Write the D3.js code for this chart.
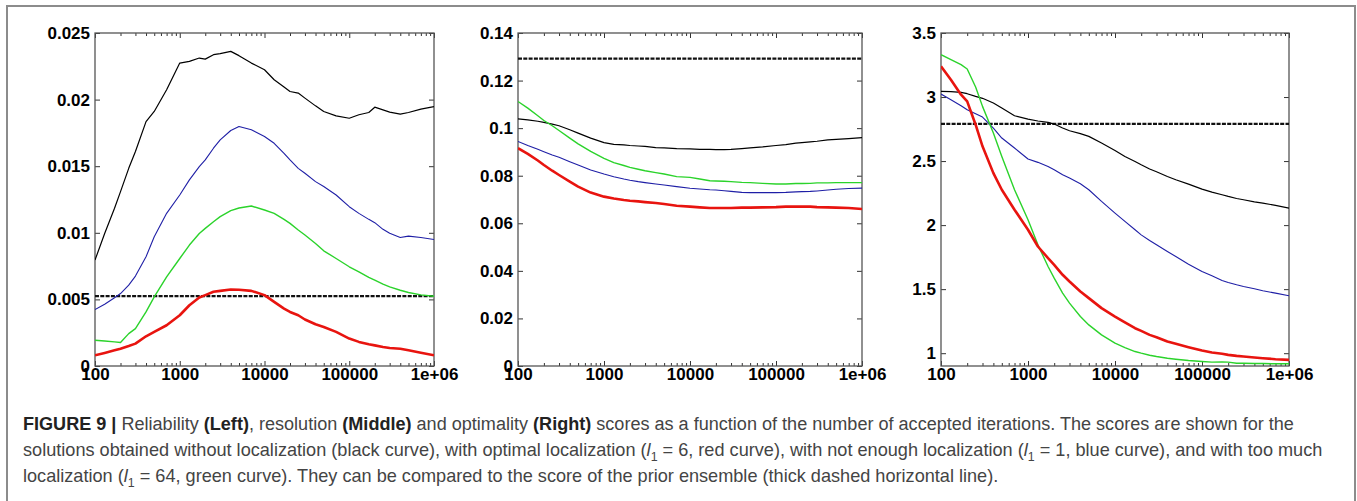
<!DOCTYPE html>
<html>
<head>
<meta charset="utf-8">
<script src="https://cdn.jsdelivr.net/npm/d3@7"></script>
<style>
  body { margin: 0; background: #fff; }
  svg { display: block; }
</style>
</head>
<body>
<svg id="fig" width="1357" height="501"></svg>
<script>
// --- data (shared x grid = accepted iterations) ---
const iterations = [100, 130, 170, 200, 250, 300, 400, 500, 700, 1000, 1300, 1700, 2000, 2500, 3000, 4000, 5000, 7000,
  10000, 13000, 17000, 20000, 25000, 30000, 40000, 50000, 70000, 100000, 130000, 170000, 200000, 250000, 300000,
  400000, 500000, 700000, 1000000];

const xTickValues = [100, 1000, 10000, 100000, 1000000];
const xTickLabels = ["100", "1000", "10000", "100000", "1e+06"];

// Left: reliability
const reliabilityBlack = [0.00795, 0.00995, 0.01184, 0.01309, 0.01484, 0.0161, 0.01835, 0.01911, 0.02074, 0.02274, 0.02287,
  0.02312, 0.02304, 0.02337, 0.02345, 0.02362, 0.0233, 0.02274, 0.02224, 0.02149, 0.02094, 0.02061, 0.02049, 0.02011,
  0.01953, 0.01911, 0.01878, 0.0186, 0.01886, 0.01903, 0.01943, 0.01923, 0.01906, 0.01891, 0.01903, 0.01928, 0.01948];
const reliabilityBlue = [0.00424, 0.00464, 0.00512, 0.00544, 0.00607, 0.00675, 0.0082, 0.0097, 0.01146, 0.01284, 0.01397,
  0.01497, 0.01547, 0.01635, 0.01698, 0.01768, 0.01798, 0.01773, 0.01723, 0.01672, 0.01597, 0.01547, 0.01484, 0.01447,
  0.01384, 0.01347, 0.01284, 0.01196, 0.01146, 0.01101, 0.01076, 0.01026, 0.00996, 0.00965, 0.00975, 0.00965, 0.0095];
const reliabilityGreen = [0.00193, 0.00188, 0.00181, 0.00176, 0.00243, 0.00281, 0.00406, 0.00519, 0.00669, 0.00807, 0.00908,
  0.00995, 0.01033, 0.01083, 0.01121, 0.01166, 0.01186, 0.01201, 0.01171, 0.01146, 0.01101, 0.01071, 0.01021, 0.00983,
  0.0092, 0.00865, 0.00807, 0.00745, 0.00707, 0.00665, 0.00644, 0.00614, 0.00594, 0.00569, 0.00552, 0.00534, 0.00524];
const reliabilityRed = [0.0008, 0.00098, 0.00118, 0.0013, 0.0015, 0.00168, 0.00223, 0.00256, 0.00306, 0.00381, 0.00456,
  0.00514, 0.00532, 0.00557, 0.00564, 0.00574, 0.00572, 0.00564, 0.00532, 0.00481, 0.00431, 0.00406, 0.00381, 0.00349,
  0.00313, 0.00293, 0.00256, 0.00206, 0.00181, 0.00163, 0.00155, 0.00143, 0.00135, 0.0013, 0.00118, 0.001, 0.0008];
const reliabilityPrior = 0.00525;
const reliabilityTicks = [0, 0.005, 0.01, 0.015, 0.02, 0.025];

// Middle: resolution
const resolutionBlack = [0.1039, 0.1035, 0.1029, 0.1024, 0.1017, 0.101, 0.0993, 0.0979, 0.0958, 0.0939, 0.0932, 0.093,
  0.0927, 0.0925, 0.0923, 0.0918, 0.0917, 0.0914, 0.0913, 0.0911, 0.0911, 0.091, 0.091, 0.0911, 0.0914, 0.0917, 0.0921,
  0.0927, 0.0931, 0.0937, 0.0939, 0.0942, 0.0945, 0.0951, 0.0953, 0.0956, 0.096];
const resolutionBlue = [0.0944, 0.0927, 0.0911, 0.0901, 0.0887, 0.0878, 0.0859, 0.0845, 0.0824, 0.0807, 0.0796, 0.0786,
  0.0781, 0.0775, 0.0771, 0.0765, 0.0761, 0.0754, 0.0747, 0.0744, 0.0741, 0.074, 0.0737, 0.0734, 0.073, 0.0729, 0.0729,
  0.0729, 0.073, 0.0732, 0.0733, 0.0734, 0.0736, 0.074, 0.0743, 0.0746, 0.0748];
const resolutionGreen = [0.1112, 0.1084, 0.1052, 0.1032, 0.101, 0.099, 0.0958, 0.0934, 0.0902, 0.0873, 0.0855, 0.0843,
  0.0835, 0.0827, 0.0821, 0.0813, 0.0807, 0.0796, 0.0793, 0.0786, 0.0779, 0.0778, 0.0777, 0.0775, 0.0772, 0.0771, 0.0768,
  0.0765, 0.0765, 0.0767, 0.0767, 0.0768, 0.077, 0.077, 0.0771, 0.0771, 0.0771];
const resolutionRed = [0.0916, 0.0892, 0.0864, 0.0845, 0.0821, 0.0803, 0.0775, 0.0754, 0.0729, 0.0712, 0.0704, 0.0698,
  0.0695, 0.0692, 0.0689, 0.0685, 0.0681, 0.0674, 0.067, 0.0667, 0.0664, 0.0664, 0.0664, 0.0664, 0.0666, 0.0666, 0.0667,
  0.0668, 0.067, 0.067, 0.067, 0.067, 0.0668, 0.0667, 0.0666, 0.0664, 0.066];
const resolutionPrior = 0.1292;
const resolutionTicks = [0, 0.02, 0.04, 0.06, 0.08, 0.1, 0.12, 0.14];

// Right: optimality
const optimalityBlack = [3.044, 3.042, 3.036, 3.026, 3.005, 2.99, 2.953, 2.914, 2.854, 2.828, 2.813, 2.802, 2.789, 2.758,
  2.737, 2.714, 2.693, 2.641, 2.583, 2.536, 2.497, 2.471, 2.438, 2.417, 2.38, 2.354, 2.32, 2.281, 2.258, 2.237, 2.224,
  2.208, 2.198, 2.182, 2.172, 2.154, 2.133];
const optimalityBlue = [3.023, 2.979, 2.932, 2.901, 2.87, 2.844, 2.758, 2.68, 2.602, 2.516, 2.49, 2.458, 2.432, 2.393,
  2.367, 2.323, 2.276, 2.185, 2.094, 2.029, 1.964, 1.924, 1.88, 1.846, 1.794, 1.755, 1.695, 1.638, 1.604, 1.568, 1.552,
  1.534, 1.521, 1.503, 1.487, 1.469, 1.448];
const optimalityGreen = [3.331, 3.292, 3.253, 3.219, 3.078, 2.927, 2.719, 2.536, 2.276, 2.042, 1.846, 1.677, 1.586, 1.469,
  1.391, 1.286, 1.221, 1.143, 1.078, 1.044, 1.013, 1.0, 0.984, 0.974, 0.961, 0.953, 0.943, 0.935, 0.93, 0.932, 0.93,
  0.922, 0.922, 0.919, 0.919, 0.917, 0.917];
const optimalityRed = [3.24, 3.135, 3.018, 2.966, 2.784, 2.615, 2.406, 2.276, 2.12, 1.964, 1.833, 1.742, 1.69, 1.612, 1.56,
  1.482, 1.43, 1.352, 1.286, 1.24, 1.195, 1.174, 1.143, 1.125, 1.091, 1.073, 1.047, 1.021, 1.005, 0.995, 0.987, 0.979,
  0.974, 0.966, 0.961, 0.953, 0.948];
const optimalityPrior = 2.79;
const optimalityTicks = [1, 1.5, 2, 2.5, 3, 3.5];

// caption, one array of runs per line
const captionLines = [
  [{ t: "FIGURE 9 |", b: true }, { t: " Reliability " }, { t: "(Left)", b: true }, { t: ", resolution " },
   { t: "(Middle)", b: true }, { t: " and optimality " }, { t: "(Right)", b: true },
   { t: " scores as a function of the number of accepted iterations. The scores are shown for the" }],
  [{ t: "solutions obtained without localization (black curve), with optimal localization (" }, { t: "l", i: true },
   { t: "1", sub: true }, { t: " = 6, red curve), with not enough localization (" }, { t: "l", i: true },
   { t: "1", sub: true }, { t: " = 1, blue curve), and with too much" }],
  [{ t: "localization (" }, { t: "l", i: true }, { t: "1", sub: true },
   { t: " = 64, green curve). They can be compared to the score of the prior ensemble (thick dashed horizontal line)." }]
];

// --- styling ---
const colors = { black: "#000000", blue: "#1f1fa6", green: "#2bd32b", red: "#e8140f" };
const widths = { black: 1.2, blue: 1.1, green: 1.4, red: 2.6 };

const panels = [
  { x0: 95, x1: 434, domain: [0, 0.025], ticks: reliabilityTicks, prior: reliabilityPrior,
    series: [["black", reliabilityBlack], ["blue", reliabilityBlue], ["green", reliabilityGreen], ["red", reliabilityRed]] },
  { x0: 518, x1: 862, domain: [0, 0.14], ticks: resolutionTicks, prior: resolutionPrior,
    series: [["black", resolutionBlack], ["green", resolutionGreen], ["blue", resolutionBlue], ["red", resolutionRed]] },
  { x0: 941, x1: 1289, domain: [0.9, 3.5], ticks: optimalityTicks, prior: optimalityPrior,
    series: [["black", optimalityBlack], ["blue", optimalityBlue], ["green", optimalityGreen], ["red", optimalityRed]] }
];

const plotTop = 33, plotBottom = 366;
const svg = d3.select("#fig");

// outer figure frame
svg.append("rect")
  .attr("x", 7).attr("y", 6).attr("width", 1348).attr("height", 530)
  .attr("fill", "none").attr("stroke", "#8c8c8c").attr("stroke-width", 2);

// minor log ticks 200..900 per decade
const minorTicks = [];
for (let d = 100; d < 1000000; d *= 10) for (let k = 2; k <= 9; k++) minorTicks.push(d * k);

panels.forEach((p, i) => {
  const w = p.x1 - p.x0, h = plotBottom - plotTop;
  const g = svg.append("g").attr("transform", `translate(${p.x0},${plotTop})`);

  const x = d3.scaleLog().domain([100, 1000000]).range([0, w]);
  const y = d3.scaleLinear().domain(p.domain).range([h, 0]);

  g.append("clipPath").attr("id", `clip${i}`)
    .append("rect").attr("width", w).attr("height", h);

  // axes: ticks point inward on all four sides
  const styleAxis = sel => {
    sel.select(".domain").remove();
    sel.selectAll("line").attr("stroke", "#333").attr("stroke-width", 1);
    sel.selectAll("text").attr("fill", "#000")
      .style("font-family", "'Liberation Sans', Arial, sans-serif")
      .style("font-weight", "bold").style("font-size", "17px");
  };

  g.append("g").attr("transform", `translate(0,${h})`)
    .call(d3.axisBottom(x).tickValues(minorTicks).tickSize(-3).tickFormat(""))
    .call(styleAxis);
  g.append("g")
    .call(d3.axisTop(x).tickValues(minorTicks).tickSize(-3).tickFormat(""))
    .call(styleAxis);
  g.append("g").attr("transform", `translate(0,${h})`)
    .call(d3.axisBottom(x).tickValues(xTickValues).tickSize(-5).tickPadding(2)
      .tickFormat((d, k) => xTickLabels[k]))
    .call(styleAxis);
  g.append("g")
    .call(d3.axisTop(x).tickValues(xTickValues).tickSize(-5).tickFormat(""))
    .call(styleAxis);
  g.append("g")
    .call(d3.axisLeft(y).tickValues(p.ticks).tickSize(-5).tickPadding(5).tickFormat(d => String(d)))
    .call(styleAxis);
  g.append("g").attr("transform", `translate(${w},0)`)
    .call(d3.axisRight(y).tickValues(p.ticks).tickSize(-5).tickFormat(""))
    .call(styleAxis);

  // plot frame
  g.append("rect").attr("width", w).attr("height", h)
    .attr("fill", "none").attr("stroke", "#555").attr("stroke-width", 1.3);

  const plot = g.append("g").attr("clip-path", `url(#clip${i})`);

  // prior ensemble score (thick dashed)
  plot.append("line")
    .attr("x1", 0).attr("x2", w).attr("y1", y(p.prior)).attr("y2", y(p.prior))
    .attr("stroke", "#111").attr("stroke-width", 2.2).attr("stroke-dasharray", "4,1.3");

  const line = d3.line().x((d, k) => x(iterations[k])).y(d => y(d));
  p.series.forEach(([name, vals]) => {
    plot.append("path").datum(vals)
      .attr("d", line)
      .attr("fill", "none")
      .attr("stroke", colors[name])
      .attr("stroke-width", widths[name])
      .attr("stroke-linejoin", "round");
  });
});

// caption: line 1 fitted to its own width, lines 2-3 share the scale of line 2
const capBaselines = [430, 456, 482];
const capFirstWidth = 1272, capSecondWidth = 1300;
const capTexts = captionLines.map(runs => {
  const cg = svg.append("g");
  const text = cg.append("text")
    .style("font-family", "'Liberation Sans', Arial, sans-serif")
    .style("font-size", "19px").attr("fill", "#444");
  let shift = 0;
  runs.forEach(r => {
    const ts = text.append("tspan").text(r.t);
    if (r.b) ts.style("font-weight", "bold").attr("fill", "#222");
    if (r.i) ts.style("font-style", "italic");
    if (r.sub) { ts.attr("dy", 5).style("font-size", "13px"); shift = 5; }
    else if (shift) { ts.attr("dy", -shift); shift = 0; }
  });
  return { cg, len: text.node().getComputedTextLength() };
});
const bodyScale = capSecondWidth / capTexts[1].len;
capTexts.forEach((c, li) => {
  const s = li === 0 ? capFirstWidth / c.len : bodyScale;
  c.cg.attr("transform", `translate(23,${capBaselines[li]}) scale(${s},1)`);
});
</script>
</body>
</html>
